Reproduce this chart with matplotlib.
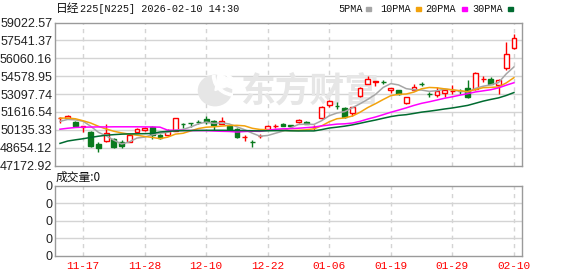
import numpy as np
import matplotlib
matplotlib.use('Agg')
import matplotlib.pyplot as plt
from matplotlib.patches import Rectangle, Circle, Wedge

# daily candles, Nikkei 225
dates = ['11-12', '11-13', '11-14', '11-17', '11-18', '11-19', '11-20', '11-21', '11-25', '11-26',
         '11-27', '11-28', '12-01', '12-02', '12-03', '12-04', '12-05', '12-08', '12-09', '12-10',
         '12-11', '12-12', '12-15', '12-16', '12-17', '12-18', '12-19', '12-22', '12-23', '12-24',
         '12-25', '12-26', '12-29', '12-30', '01-05', '01-06', '01-07', '01-08', '01-09', '01-13',
         '01-14', '01-15', '01-16', '01-19', '01-20', '01-21', '01-22', '01-23', '01-26', '01-27',
         '01-28', '01-29', '01-30', '02-02', '02-03', '02-04', '02-05', '02-06', '02-09', '02-10']
opens = [51080, 51099, 50800, 50400, 49930, 48924, 49196, 49332, 49142, 49115,
         49957, 50147, 50365, 49659, 49659, 50066, 50620, 50700, 50760, 51017,
         50881, 50610, 50419, 50202, 49540, 49130, 49590, 50202, 50460, 50582,
         50490, 50746, 50773, 50350, 51099, 52186, 52120, 51914, 51507, 52920,
         53953, 54130, 54100, 53409, 53409, 52322, 53409, 53960, 53090, 53002,
         53192, 53340, 53370, 53627, 53545, 54340, 54360, 53817, 55230, 56888]
highs = [51180, 51330, 50820, 50440, 50066, 49114, 50610, 49468, 49278, 49680,
         50284, 50365, 50474, 49794, 50202, 51120, 50691, 50700, 50963, 51235,
         50920, 51180, 50500, 50284, 49740, 49278, 49794, 50520, 50637, 50691,
         50555, 51045, 50830, 50555, 52105, 52594, 52458, 51996, 52010, 53680,
         54551, 54160, 54225, 53620, 53440, 52830, 53953, 54089, 53273, 53681,
         53545, 53817, 53545, 54279, 54904, 54551, 54496, 54310, 57405, 58084]
lows = [50690, 51090, 50450, 49985, 48734, 48327, 49150, 48653, 48653, 49100,
        49876, 50066, 49332, 49332, 49605, 50040, 50284, 50365, 50610, 50610,
        50147, 50600, 50147, 49468, 49196, 48707, 49414, 50180, 50284, 50420,
        50365, 50691, 50580, 50147, 51045, 52050, 51833, 51099, 51235, 52880,
        53920, 53763, 53898, 53192, 53050, 52300, 53390, 53735, 52811, 52811,
        52866, 53138, 53083, 52790, 53464, 54089, 53898, 53083, 55121, 56860]
closes = [51110, 51316, 50474, 50420, 48789, 48598, 49876, 48707, 48789, 49659,
          50202, 50284, 49659, 49441, 50012, 51099, 50600, 50680, 50740, 50746,
          50555, 50827, 50202, 49550, 49560, 49100, 49610, 50474, 50480, 50474,
          50470, 50963, 50610, 50370, 51996, 52540, 52100, 51180, 51996, 53627,
          54360, 54143, 54070, 53600, 53083, 52811, 53681, 53940, 53070, 53355,
          53464, 53360, 53350, 52811, 54823, 54360, 53953, 54279, 56399, 57704]

# moving average lines
ma5 = [50830, 50990, 50950, 50840, 50422, 49919, 49631, 49278, 48952, 49126,
       49447, 49528, 49719, 49849, 49920, 50099, 50162, 50366, 50626, 50773,
       50664, 50710, 50614, 50376, 50139, 49848, 49604, 49659, 49845, 50028,
       50302, 50572, 50599, 50577, 50882, 51296, 51523, 51637, 51962, 52289,
       52653, 53061, 53639, 53960, 53851, 53541, 53449, 53423, 53317, 53371,
       53502, 53438, 53320, 53268, 53562, 53741, 53859, 54045, 54763, 55339]
ma10 = [51099, 51100, 51045, 50880, 50690, 50420, 50200, 50010, 49875, 49774,
        49683, 49580, 49498, 49400, 49523, 49773, 49845, 50043, 50238, 50346,
        50382, 50436, 50490, 50501, 50456, 50256, 50157, 50136, 50110, 50083,
        50075, 50088, 50129, 50211, 50455, 50799, 51048, 51118, 51270, 51585,
        51974, 52292, 52638, 52961, 53070, 53097, 53255, 53531, 53639, 53611,
        53522, 53443, 53371, 53293, 53467, 53621, 53649, 53683, 54015, 54450]
ma20 = [50180, 50260, 50320, 50350, 50360, 50370, 50370, 50380, 50380, 50380,
        50380, 50370, 50370, 50350, 50100, 50090, 50080, 50070, 50065, 50060,
        50032, 50008, 49994, 49951, 49989, 50014, 50001, 50089, 50174, 50215,
        50228, 50262, 50310, 50356, 50455, 50527, 50602, 50627, 50690, 50834,
        51024, 51190, 51384, 51586, 51762, 51948, 52151, 52325, 52454, 52598,
        52748, 52868, 53005, 53127, 53268, 53359, 53452, 53607, 53827, 54031]
ma30 = [49006, 49200, 49300, 49390, 49500, 49600, 49680, 49730, 49770, 49790,
        49800, 49810, 49830, 49950, 50000, 50040, 50060, 50070, 50080, 50085,
        50090, 50090, 50085, 50075, 50065, 50050, 50045, 50050, 50060, 50068,
        50046, 50035, 50039, 50038, 50144, 50276, 50350, 50432, 50539, 50672,
        50810, 50939, 51086, 51224, 51327, 51384, 51487, 51595, 51673, 51760,
        51857, 51941, 52046, 52155, 52330, 52506, 52650, 52777, 52975, 53216]

price_ticks = [47172.92, 48654.12, 50135.33, 51616.54, 53097.74,
               54578.95, 56060.16, 57541.37, 59022.57]
tick_dates = ['11-17', '11-28', '12-10', '12-22', '01-06', '01-19', '01-29', '02-10']
volume = 0

RED = '#ff0000'
GREEN = '#0a7a1e'
MA_COLORS = ['#a6a6a6', '#f2a20c', '#ff00ff', '#006b30']
GRID = '#d4d4d4'
SPINE = '#9a9a9a'
MARK = '#e6e6e6'
W, H = 578, 276


def px_box(left, top, right, bottom):
    return [left / W, 1 - bottom / H, (right - left) / W, (bottom - top) / H]


def style_axes(ax, xpos):
    for s in ax.spines.values():
        s.set_color(SPINE)
        s.set_linewidth(1)
    ax.tick_params(length=0, pad=2)
    for xp in xpos:
        ax.axvline(xp, color=GRID, lw=1, ls=(0, (3, 3)), zorder=0)


fig = plt.figure(figsize=(W / 100, H / 100), dpi=100)
ax = fig.add_axes(px_box(55, 22.5, 522, 165.5))
axv = fig.add_axes(px_box(55, 186, 522, 255.5))

x = np.arange(len(dates))
o = np.array(opens)
h = np.array(highs)
l = np.array(lows)
c = np.array(closes)
up = c >= o
body_lo = np.minimum(o, c)
body_hi = np.maximum(o, c)
cols = np.where(up, RED, GREEN)
tick_pos = [dates.index(d) for d in tick_dates]

style_axes(ax, tick_pos)
for yv in price_ticks[1:-1]:
    ax.axhline(yv, color=GRID, lw=1, zorder=0)

# watermark text, sits over the grid but under the candles
ax.text(0.548, 0.52, '东方财富', transform=ax.transAxes, ha='center', va='center',
        fontsize=25, fontweight='black', color=MARK,
        family='Noto Sans CJK SC', zorder=1)

# wicks and bodies
ax.vlines(x, body_hi, h, colors=cols, lw=1, zorder=3)
ax.vlines(x, l, body_lo, colors=cols, lw=1, zorder=3)
ax.bar(x[up], (body_hi - body_lo)[up], bottom=body_lo[up], width=0.62,
       facecolor='white', edgecolor=RED, linewidth=1, zorder=3)
ax.bar(x[~up], (body_hi - body_lo)[~up], bottom=body_lo[~up], width=0.62,
       facecolor=GREEN, edgecolor=GREEN, linewidth=1, zorder=3)

for ma, col in zip([ma5, ma10, ma20, ma30], MA_COLORS):
    ax.plot(x, ma, color=col, lw=1.1, zorder=4)

ax.set_xlim(-0.65, 60.05)
ax.set_ylim(price_ticks[0], price_ticks[-1])
ax.set_yticks(price_ticks)
ax.set_yticklabels(['%.2f' % v for v in price_ticks], family='Liberation Sans',
                   fontsize=9, color='#222222')
ax.set_xticks([])

# logo of the watermark: a ball cut by curved white stripes
axl = fig.add_axes(px_box(197, 74, 233, 107), zorder=0.5)
axl.set_xlim(0, 1)
axl.set_ylim(0, 1)
axl.axis('off')
axl.patch.set_alpha(0)
axl.add_patch(Circle((0.5, 0.5), 0.46, color=MARK))
axl.add_patch(Wedge((1.05, 0.95), 0.62, 180, 290, width=0.07, color='white'))
axl.add_patch(Wedge((1.10, 1.05), 0.50, 180, 290, width=0.07, color='white'))
axl.add_patch(Wedge((1.15, 1.15), 0.38, 180, 290, width=0.07, color='white'))
axl.add_patch(Wedge((0.5, 0.5), 0.50, 20, 80, color='white'))

# volume panel (empty, all zeros)
style_axes(axv, tick_pos)
axv.set_xlim(-0.65, 60.05)
axv.set_ylim(0, 4)
for yv in [1, 2, 3]:
    axv.axhline(yv, color=GRID, lw=1, zorder=0)
axv.set_yticks([0, 1, 2, 3, 4])
axv.set_yticklabels(['0'] * 5, family='Liberation Sans', fontsize=9, color='#222222')
axv.set_xticks(tick_pos)
axv.set_xticklabels(tick_dates, family='Liberation Mono', fontsize=8, color=RED)
axv.tick_params(axis='x', pad=4)


def ftext(xp, yp, s, **kw):
    fig.text(xp / W, 1 - yp / H, s, va='center', ha='left', **kw)


ftext(56, 8.5, '日经', family='Noto Sans CJK SC', fontsize=8.5, color='#111111')
ftext(80, 8.5, '225[N225] 2026-02-10 14:30', family='Liberation Mono', fontsize=7.3,
      color='#111111')
ftext(56, 177, '成交量:%d' % volume, family=['Noto Sans CJK SC', 'DejaVu Sans'],
      fontsize=8.5, color='#111111')

legend_items = [('5PMA', 338, 366), ('10PMA', 380, 416), ('20PMA', 425, 462), ('30PMA', 472, 508)]
for (name, tx, sx), col in zip(legend_items, MA_COLORS):
    ftext(tx, 8.5, name, family='Liberation Mono', fontsize=7.3, color='#111111')
    fig.add_artist(Rectangle((sx / W, 1 - 10.5 / H), 5 / W, 4 / H,
                             transform=fig.transFigure, color=col))

fig.savefig('out.png', dpi=100)
